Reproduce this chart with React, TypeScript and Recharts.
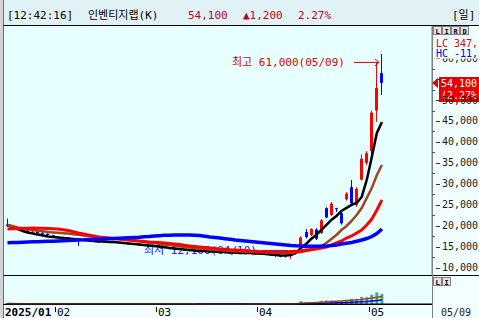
import React from 'react';
import { ComposedChart, Bar, Line, XAxis, YAxis, ReferenceLine } from 'recharts';

const MONO = '"DejaVu Sans Mono", "Noto Sans CJK KR", monospace';
const UP = '#ff0000';
const DOWN = '#0000ff';

const dates = [
  '01/15', '01/16', '01/17', '01/20', '01/21', '01/22', '01/23', '01/24', '01/31',
  '02/03', '02/04', '02/05', '02/06', '02/07', '02/10', '02/11', '02/12', '02/13', '02/14',
  '02/17', '02/18', '02/19', '02/20', '02/21', '02/24', '02/25', '02/26', '02/27', '02/28',
  '03/04', '03/05', '03/06', '03/07', '03/10', '03/11', '03/12', '03/13', '03/14', '03/17',
  '03/18', '03/19', '03/20', '03/21', '03/24', '03/25', '03/26', '03/27', '03/28', '03/31',
  '04/01', '04/02', '04/03', '04/04', '04/07', '04/08', '04/09', '04/10', '04/11', '04/14',
  '04/15', '04/16', '04/17', '04/18', '04/21', '04/22', '04/23', '04/24', '04/25', '04/28',
  '04/29', '04/30', '05/02', '05/07', '05/08', '05/09',
];

const opens = [
  20300, 19900, 19500, 19200, 18900, 18400, 18600, 18300, 18100,
  17700, 17300, 17100, 17200, 16900, 16900, 16700, 16600, 16400, 16300, 16200, 16300, 16000, 16100, 15900, 15800, 15700, 15600, 15400, 15300,
  15200, 15100, 14900, 14800, 14600, 14500, 14400, 14200, 14100, 14000, 13900, 14000, 13800, 13800, 13700, 13600, 13600, 13500, 13500, 13400,
  13500, 13300, 13300, 13200, 13100, 12900, 12700, 12900, 13300,
  14900, 18500, 17800, 19100, 18300, 24200, 22600, 24200, 23000, 26300, 29200, 25000, 31000,
  35000, 37800, 47500, 56400,
];
const highs = [
  21700, 20100, 19700, 19400, 19000, 18800, 18700, 18500, 18200,
  17800, 17400, 17400, 17300, 17000, 17000, 16800, 16700, 16500, 16400, 16500, 16400, 16200, 16200, 16000, 15900, 15800, 15700, 15500, 15400,
  15300, 15200, 15000, 14900, 14700, 14600, 14500, 14300, 14200, 14100, 14100, 14100, 13900, 13900, 13800, 13700, 13700, 13600, 13600, 13600,
  13600, 13400, 13400, 13300, 13200, 13000, 13000, 13500, 14200,
  17500, 19200, 19400, 19400, 21600, 24400, 25700, 24300, 23400, 28000, 30900, 29200, 37000,
  37800, 47500, 59000, 61000,
];
const lows = [
  19700, 19300, 19000, 18700, 18200, 18300, 18100, 17800, 17600,
  17100, 17000, 17000, 16700, 16600, 15200, 16500, 16300, 16200, 16000, 16100, 15900, 15900, 15800, 15600, 15500, 15400, 15200, 15100, 15000,
  14900, 14700, 14600, 14400, 14300, 14200, 14000, 13900, 13800, 13700, 13800, 13600, 13600, 13500, 13400, 13400, 13300, 13300, 13200, 13300,
  13100, 13100, 13000, 12900, 12600, 12500, 12400, 12100, 13100,
  14700, 17000, 17500, 16600, 18000, 21800, 22300, 23300, 20300, 26000, 25000, 24500, 30800,
  34500, 37000, 44800, 51200,
];
const closes = [
  19900, 19600, 19200, 18900, 18500, 18600, 18300, 18100, 17800,
  17300, 17100, 17200, 16900, 16800, 16700, 16600, 16400, 16300, 16200, 16300, 16000, 16100, 15900, 15800, 15700, 15600, 15400, 15300, 15200,
  15100, 14900, 14800, 14600, 14500, 14400, 14200, 14100, 14000, 13900, 14000, 13800, 13800, 13700, 13600, 13600, 13500, 13500, 13400, 13500,
  13300, 13300, 13200, 13100, 12900, 12700, 12900, 13300, 14000,
  17200, 17300, 19200, 16900, 21300, 22000, 25300, 24000, 20600, 27700, 25400, 28800, 36000,
  37300, 47000, 52900, 54100,
];

// moving average lines
const ma5 = [
  20180, 19710, 19230, 18750, 18400, 18160, 17920, 17680, 17440,
  17320, 17200, 17080, 16960, 16840, 16730, 16610, 16490, 16370, 16250, 16250, 16130, 16130, 16010, 15890, 15770, 15650, 15530, 15410, 15290,
  15180, 15060, 14940, 14700, 14580, 14460, 14340, 14220, 14100, 13980, 13980, 13860, 13860, 13740, 13740, 13630, 13630, 13510, 13510, 13510,
  13390, 13390, 13270, 13150, 13030, 12910, 12910, 13030, 13510,
  14700, 15650, 16840, 17800, 18990, 20180, 21400, 22350, 23540, 24260, 24970, 25450, 26880,
  30940, 36430, 42150, 44770,
];
const ma10 = [
  20180, 19950, 19590, 19350, 19180, 18990, 18820, 18680, 18510,
  18420, 18320, 18230, 18160, 17990, 17850, 17700, 17560, 17440, 17320, 17200, 17080, 16960, 16840, 16730, 16610, 16460, 16320, 16150, 16010,
  15870, 15720, 15560, 15410, 15270, 15130, 14960, 14820, 14700, 14580, 14460, 14340, 14250, 14150, 14080, 13980, 13910, 13860, 13790, 13740,
  13720, 13700, 13650, 13630, 13580, 13530, 13510, 13510, 13630,
  13740, 13980, 14220, 14700, 15180, 15890, 16840, 17800, 18990, 19950, 21140, 22570, 24240,
  26630, 29010, 32110, 34500,
];
const ma20 = [
  19230, 19280, 19350, 19400, 19440, 19470, 19440, 19400, 19350,
  19300, 19230, 19060, 18870, 18590, 18280, 18040, 17800, 17560, 17320, 17200, 17080, 16960, 16840, 16730, 16610, 16490, 16370, 16250, 16130,
  16060, 16010, 15890, 15770, 15650, 15530, 15340, 15180, 15060, 14940, 14820, 14700, 14580, 14460, 14390, 14290, 14220, 14150, 14050, 13980,
  13940, 13860, 13820, 13790, 13740, 13740, 13740, 13860, 13910,
  13980, 14220, 14340, 14460, 14700, 14940, 15410, 15890, 16370, 17080, 17560, 18280, 18990,
  20180, 21610, 23760, 26150,
];
const ma60 = [
  15960, 16010, 16030, 16080, 16130, 16180, 16220, 16250, 16300,
  16340, 16390, 16440, 16490, 16530, 16610, 16650, 16730, 16770, 16820, 16870, 16920, 16960, 17010, 17080, 17130, 17200, 17270, 17370, 17440,
  17540, 17630, 17730, 17750, 17780, 17800, 17800, 17780, 17730, 17680, 17490, 17320, 17200, 17080, 16920, 16770, 16610, 16490, 16370, 16250,
  16130, 16010, 15890, 15770, 15650, 15530, 15410, 15290, 15220,
  15180, 15130, 15100, 15100, 15100, 15150, 15290, 15410, 15650, 15820, 16010, 16300, 16610,
  16960, 17440, 18160, 19230,
];

// volume, thousands of shares
const volumes = [
  120, 90, 70, 60, 80, 50, 60, 50, 70,
  60, 50, 50, 40, 40, 150, 50, 40, 40, 40, 30, 40, 30, 30, 40, 30, 30, 30, 40, 30,
  30, 30, 30, 40, 30, 30, 30, 30, 30, 30, 30, 30, 30, 30, 30, 30, 30, 30, 30, 30,
  30, 30, 30, 40, 60, 50, 70, 60, 90,
  700, 500, 500, 450, 800, 900, 850, 600, 700, 1000, 1300, 1200, 1800,
  1700, 2300, 2900, 2500,
];
const volMa5 = [
  110, 100, 90, 85, 80, 70, 65, 60, 60,
  60, 58, 55, 50, 45, 65, 65, 62, 60, 60, 40, 38, 36, 34, 34, 34, 32, 32, 32, 32,
  32, 32, 32, 32, 32, 32, 32, 32, 32, 30, 30, 30, 30, 30, 30, 30, 30, 30, 30, 30,
  30, 30, 30, 32, 36, 42, 52, 58, 66,
  180, 260, 330, 380, 450, 520, 600, 680, 760, 850, 950, 1050, 1150,
  1300, 1500, 1700, 1880,
];
const volMa20 = [
  80, 80, 78, 76, 74, 72, 70, 68, 66,
  64, 62, 60, 58, 56, 58, 56, 54, 52, 50, 48, 46, 44, 42, 42, 40, 40, 38, 38, 38,
  38, 36, 36, 36, 35, 35, 34, 34, 34, 33, 33, 33, 32, 32, 32, 32, 32, 32, 32, 31,
  31, 31, 31, 32, 33, 35, 36, 38, 40,
  60, 90, 120, 140, 180, 220, 260, 300, 340, 390, 450, 510, 580,
  650, 750, 870, 1000,
];

const priceTicks = [
  10000, 12500, 15000, 17500, 20000, 22500, 25000, 27500, 30000, 32500, 35000,
  37500, 40000, 42500, 45000, 47500, 50000, 52500, 55000, 57500, 60000, 62500,
];
const monthTicks = ['01/15', '02/03', '03/04', '04/01', '05/02'];
const monthLabels = ['2025/01', '02', '03', '04', '05'];

const fmt = (v: number) => v.toLocaleString('en-US');
const last = closes.length - 1;
const hiIdx = highs.indexOf(Math.max(...highs));
const loIdx = lows.indexOf(Math.min(...lows));
const change = closes[last] - closes[last - 1];
const pct = ((change / closes[last - 1]) * 100).toFixed(2);

const rows: any[] = [
  ...dates.map((d, i) => ({
    d,
    i,
    o: opens[i],
    h: highs[i],
    l: lows[i],
    c: closes[i],
    range: [lows[i], highs[i]],
    ma5: ma5[i],
    ma10: ma10[i],
    ma20: ma20[i],
    ma60: ma60[i],
    vol: volumes[i],
    vma5: volMa5[i],
    vma20: volMa20[i],
  })),
  // empty slots on the right, as in the original screen
  ...Array.from({ length: 9 }, (_, k) => ({ d: `+${k}` })),
];

const Candle = (props: any) => {
  const { x, y, width, height, payload } = props;
  if (!payload || payload.o == null) return null;
  const top = Math.min(y, y + height);
  const span = Math.abs(height);
  const k = span / (payload.h - payload.l || 1);
  const col = payload.c >= payload.o ? UP : DOWN;
  const cx = Math.floor(x + width / 2);
  const bTop = top + (payload.h - Math.max(payload.o, payload.c)) * k;
  const bBot = top + (payload.h - Math.min(payload.o, payload.c)) * k;
  const bottom = top + span;
  return (
    <g>
      <line x1={cx + 0.5} x2={cx + 0.5} y1={top} y2={bottom} stroke={col} />
      <rect x={cx - 1} y={bTop} width={3} height={Math.max(1, bBot - bTop)} fill={col} />
      {payload.i === hiIdx && (
        <g>
          <text x={cx - 149} y={top + 12} fontSize={11} fontFamily={MONO} fill="#d80000">
            {`최고 ${fmt(payload.h)}(${payload.d})`}
          </text>
          <line x1={cx - 27} x2={cx - 2} y1={top + 8.5} y2={top + 8.5} stroke="#d80000" />
          <polyline
            points={`${cx - 6},${top + 5} ${cx - 2},${top + 8.5} ${cx - 6},${top + 12}`}
            fill="none"
            stroke="#d80000"
          />
        </g>
      )}
      {payload.i === loIdx && (
        <g>
          <text x={cx - 146} y={bottom - 4.5} fontSize={11} fontFamily={MONO} fill="#2020d8">
            {`최저 ${fmt(payload.l)}(${payload.d})`}
          </text>
          <line x1={cx - 28} x2={cx - 2} y1={bottom - 8.5} y2={bottom - 8.5} stroke="#2020d8" />
        </g>
      )}
    </g>
  );
};

const PriceTick = (props: any) => {
  const { x, y, payload } = props;
  const v = payload.value;
  const ax = Math.round(x);
  const yy = Math.round(y) + 0.5;
  if (v % 5000 !== 0) {
    return <line x1={ax} x2={ax + 3} y1={yy} y2={yy} stroke="#555" />;
  }
  // the label right under the current-price tag is hidden on the original
  const hidden = Math.abs(v - closes[last]) < 3000;
  return (
    <g>
      <line x1={ax + 4} x2={ax + 8} y1={yy} y2={yy} stroke="#333" />
      {!hidden && (
        <text x={ax + 10} y={y + 3.5} fontSize={10} fontFamily={MONO} fill="#1a1a1a">
          {fmt(v)}
        </text>
      )}
    </g>
  );
};

const PriceTag = (props: any) => {
  const vb = props.viewBox;
  const ax = vb.x + vb.width;
  const y = Math.round(vb.y);
  return (
    <g>
      <polygon points={`${ax},${y} ${ax + 6},${y - 5} ${ax + 6},${y + 5}`} fill="#e60000" />
      <rect x={ax + 7} y={y - 6} width={47} height={25} fill="#e60000" />
      <text x={ax + 9} y={y + 4} fontSize={10} fontFamily={MONO} fill="#fff">
        {fmt(closes[last])}
      </text>
      <text x={ax + 9} y={y + 16} fontSize={10} fontFamily={MONO} fill="#fff">
        {`(${pct}%`}
      </text>
    </g>
  );
};

const MonthTick = (props: any) => {
  const { x, y, payload } = props;
  const k = monthTicks.indexOf(payload.value);
  if (k < 0) return null;
  const px = Math.round(x);
  if (k === 0) {
    return (
      <text x={px - 3} y={y + 12} fontSize={11} fontWeight="bold" fontFamily={MONO} fill="#000">
        {monthLabels[0]}
      </text>
    );
  }
  return (
    <g>
      <line x1={px + 2.5} x2={px + 2.5} y1={y + 3} y2={y + 8} stroke="#000" />
      <text x={px + 4} y={y + 12} fontSize={11} fontFamily={MONO} fill="#000">
        {monthLabels[k]}
      </text>
    </g>
  );
};

const Box = ({ x, y, t }: { x: number; y: number; t: string }) => (
  <g>
    <rect x={x + 0.5} y={y + 0.5} width={8} height={8} fill="#e4e4e4" stroke="#808080" />
    <text x={x + 4.5} y={y + 7.5} fontSize={7} fontWeight="bold" textAnchor="middle" fontFamily={MONO} fill="#000">
      {t}
    </text>
  </g>
);

export default function App() {
  return (
    <div style={{ position: 'fixed', left: 0, top: 0, width: 479, height: 318, overflow: 'hidden', background: '#d4d4d4' }}>
      <svg width={479} height={318} style={{ position: 'absolute', left: 0, top: 0 }}>
        <rect x={3} y={0} width={476} height={25} fill="#e1f2f7" />
        <rect x={4} y={26} width={428} height={249} fill="#e8ffff" />
        <rect x={4} y={276} width={428} height={28} fill="#e8ffff" />
        <rect x={4} y={305} width={428} height={13} fill="#f2ffff" />
        <rect x={433} y={26} width={46} height={292} fill="#f2ffff" />
        <line x1={3.5} x2={3.5} y1={0} y2={318} stroke="#6e6e6e" />
        <line x1={3} x2={479} y1={25.5} y2={25.5} stroke="#000" />
        <line x1={3} x2={479} y1={275.5} y2={275.5} stroke="#000" />
        <line x1={3} x2={432} y1={304.5} y2={304.5} stroke="#000" />
        <line x1={432.5} x2={432.5} y1={26} y2={318} stroke="#808080" />
        <text x={7} y={18.5} fontSize={11} fontFamily={MONO} fill="#000">[12:42:16]</text>
        <text x={88} y={18.5} fontSize={11} fontFamily={MONO} fill="#000">인벤티지랩(K)</text>
        <text x={188} y={18.5} fontSize={11} fontFamily={MONO} fill="#c00020">{fmt(closes[last])}</text>
        <text x={243} y={18.5} fontSize={11} fontFamily={MONO} fill="#c00020">{`▲${fmt(change)}`}</text>
        <text x={298} y={18.5} fontSize={11} fontFamily={MONO} fill="#c00020">{`${pct}%`}</text>
        <text x={452} y={18.5} fontSize={11} fontFamily={MONO} fill="#000">[일]</text>
      </svg>

      <div style={{ position: 'absolute', left: 0, top: 0 }}>
        <ComposedChart width={479} height={276} data={rows} margin={{ top: 26, right: 0, bottom: 1, left: 5 }}>
          <XAxis dataKey="d" hide padding={{ left: 0, right: 2 }} />
          <YAxis
            orientation="right"
            type="number"
            width={47}
            domain={[8260, 67660]}
            allowDataOverflow
            ticks={priceTicks}
            interval={0}
            tickLine={false}
            tickSize={0}
            tickMargin={0}
            axisLine={{ stroke: '#808080' }}
            tick={<PriceTick />}
          />
          <Bar dataKey="range" barSize={3} shape={<Candle />} isAnimationActive={false} />
          <Line dataKey="ma5" stroke="#000000" strokeWidth={2.5} dot={false} activeDot={false} isAnimationActive={false} />
          <Line dataKey="ma10" stroke="#a0461e" strokeWidth={2.5} dot={false} activeDot={false} isAnimationActive={false} />
          <Line dataKey="ma20" stroke="#ff0000" strokeWidth={3} dot={false} activeDot={false} isAnimationActive={false} />
          <Line dataKey="ma60" stroke="#0000ff" strokeWidth={3.5} dot={false} activeDot={false} isAnimationActive={false} />
          <ReferenceLine y={closes[last]} stroke="none" label={PriceTag} />
        </ComposedChart>
      </div>

      <div style={{ position: 'absolute', left: 0, top: 276 }}>
        <ComposedChart width={479} height={42} data={rows} margin={{ top: 4, right: 47, bottom: 0, left: 5 }}>
          <XAxis
            dataKey="d"
            height={14}
            padding={{ left: 0, right: 2 }}
            ticks={monthTicks}
            interval={0}
            tickLine={false}
            tickSize={0}
            tickMargin={0}
            axisLine={{ stroke: '#000' }}
            tick={<MonthTick />}
          />
          <YAxis hide domain={[0, 6000]} />
          <Bar dataKey="vol" fill="#4aa883" barSize={3} isAnimationActive={false} />
          <Line dataKey="vma20" stroke="#0000ff" strokeWidth={1.5} dot={false} activeDot={false} isAnimationActive={false} />
          <Line dataKey="vma5" stroke="#a0461e" strokeWidth={1.5} dot={false} activeDot={false} isAnimationActive={false} />
        </ComposedChart>
      </div>

      <svg width={479} height={318} style={{ position: 'absolute', left: 0, top: 0, pointerEvents: 'none' }}>
        <rect x={433} y={36} width={46} height={22.5} fill="#f2ffff" />
        <Box x={433} y={26} t="L" />
        <Box x={442} y={26} t="I" />
        <Box x={451} y={26} t="R" />
        <Box x={460} y={26} t="D" />
        <text x={436} y={46.5} fontSize={10} fontFamily={MONO} fill="#e00000">LC 347,</text>
        <text x={436} y={56.5} fontSize={10} fontFamily={MONO} fill="#0000e0">HC -11,</text>
        <Box x={433} y={277} t="L" />
        <Box x={442} y={277} t="I" />
        <text x={441} y={316} fontSize={10} fontFamily={MONO} fill="#222">{dates[last]}</text>
      </svg>
    </div>
  );
}
